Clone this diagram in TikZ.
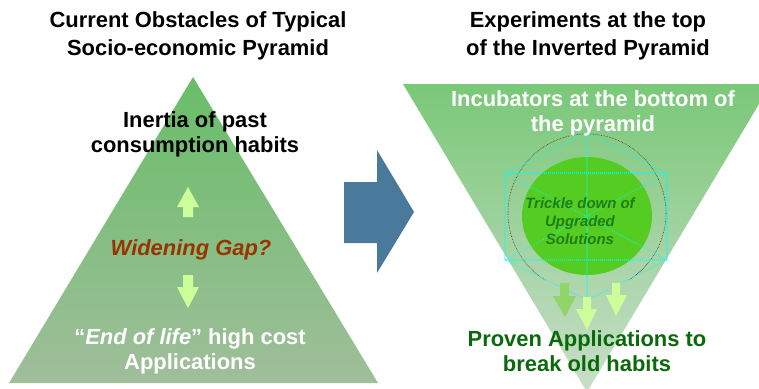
\documentclass[tikz,border=0pt]{standalone}
\usepackage{fontspec}
\setmainfont{Liberation Sans}
\begin{document}
\begin{tikzpicture}[x=1bp,y=-1bp,
  lbl/.style={font=\bfseries\fontsize{22}{25}\selectfont, align=center, inner sep=0pt},
  ttl/.style={font=\bfseries\fontsize{22}{28}\selectfont, align=center, inner sep=0pt},
  lightarrow/.style={fill=arrowlight},
  wire/.style={draw=wirecyan, dash pattern=on 0.01pt off 2pt, line cap=round, line width=1.1pt}]
\definecolor{ltop}{RGB}{104,190,104}
\definecolor{lbot}{RGB}{160,190,155}
\definecolor{rtop}{RGB}{122,200,120}
\definecolor{rbot}{RGB}{202,222,202}
\definecolor{bluearrow}{RGB}{74,122,155}
\definecolor{ballgreen}{RGB}{85,204,34}
\definecolor{arrowlight}{RGB}{204,255,153}
\definecolor{arrowmid}{RGB}{145,212,106}
\definecolor{gapred}{RGB}{153,51,0}
\definecolor{provgreen}{RGB}{10,105,10}
\definecolor{trickgreen}{RGB}{30,125,20}
\definecolor{wirecyan}{RGB}{0,255,255}
\useasboundingbox (0,0) rectangle (759,388);
\clip (0,0) rectangle (759,388);
% left pyramid
\shade[top color=ltop, bottom color=lbot] (193,77) -- (378,383) -- (9,383) -- cycle;
% right inverted pyramid
\shade[top color=rtop, bottom color=rbot] (403,84) -- (771,84) -- (587,392) -- cycle;
% blue block arrow
\fill[bluearrow] (344,182) -- (377,182) -- (377,150) -- (414,212) -- (377,273) -- (377,243) -- (344,243) -- cycle;
% left small arrows
\fill[lightarrow] (188,187) -- (199,207) -- (193,207) -- (193,217) -- (183,217) -- (183,207) -- (177,207) -- cycle;
\fill[lightarrow] (188,308) -- (199,287) -- (193,287) -- (193,275) -- (183,275) -- (183,287) -- (177,287) -- cycle;
% ball
\fill[ballgreen] (587,216) ellipse [x radius=65, y radius=59];
\draw[black!80, densely dotted, line width=0.6pt] (587,213) ++(122:79) arc[start angle=122, end angle=418, radius=79];
% wireframe
\draw[wire] (505,173) rectangle (667,260);
\draw[wire] (505,173) -- (667,260) (667,173) -- (505,260);
\draw[wire] (505,173) -- (587,133) -- (667,173);
\draw[wire] (505,260) -- (587,300) -- (667,260);
\draw[wire] (587,133) -- (587,300);
% three arrows
\fill[arrowmid] (565,317) -- (576,296) -- (569,296) -- (569,283) -- (560,283) -- (560,296) -- (553,296) -- cycle;
\fill[lightarrow] (587,330) -- (597,309) -- (591,309) -- (591,297) -- (583,297) -- (583,309) -- (576,309) -- cycle;
\fill[lightarrow] (616,316) -- (627,295) -- (620,295) -- (620,283) -- (612,283) -- (612,295) -- (606,295) -- cycle;
% texts
\node[ttl] (lt) at (198,36) {Current Obstacles of Typical\\Socio-economic Pyramid};
\node[ttl] (rt) at (588,36) {Experiments at the top\\of the Inverted Pyramid};
\node[lbl] (inertia) at (195,134) {Inertia of past\\consumption habits};
\node[lbl, font=\bfseries\itshape\fontsize{22}{25}\selectfont, text=gapred] (gap) at (191,250) {Widening Gap?};
\node[lbl, text=white] (eol) at (190,351) {“\textit{End of life}” high cost\\Applications};
\node[lbl, text=white] (incub) at (593,113) {Incubators at the bottom of\\the pyramid};
\node[font=\bfseries\itshape\fontsize{15}{18}\selectfont, align=center, inner sep=0pt, text=trickgreen] (trickle) at (580,221) {Trickle down of\\Upgraded\\Solutions};
\node[lbl, text=provgreen] (proven) at (587,351) {Proven Applications to\\break old habits};
\end{tikzpicture}
\end{document}
